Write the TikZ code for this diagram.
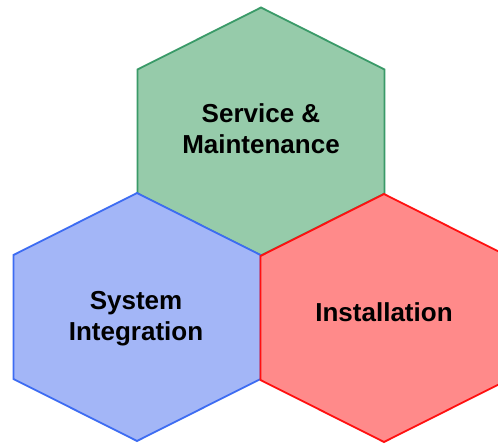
\documentclass[tikz,border=0pt]{standalone}
\usepackage{fontspec}
\setmainfont{Liberation Sans}
\definecolor{gfill}{HTML}{96CBAA}
\definecolor{gline}{HTML}{3A9A68}
\definecolor{bfill}{HTML}{A3B6F7}
\definecolor{bline}{HTML}{3D6CF2}
\definecolor{rfill}{HTML}{FF8A8A}
\definecolor{rline}{HTML}{FF1010}
\tikzset{
  hexa/.style={line width=1.8pt, line join=miter},
  label text/.style={font=\fontsize{26}{31}\selectfont\bfseries, align=center, text=black, inner sep=0pt}
}
\newcommand{\hexpath}[2]{(#1,#2-124) -- (#1+123.5,#2-62) -- (#1+123.5,#2+62) -- (#1,#2+124) -- (#1-123.5,#2+62) -- (#1-123.5,#2-62) -- cycle}
\begin{document}
\begin{tikzpicture}[x=1pt,y=-1pt]
\useasboundingbox (0,0) rectangle (498,444);
\clip (0,0) rectangle (498,444);
% green
\filldraw[hexa, fill=gfill, draw=gline] \hexpath{261}{131.5};
% blue
\filldraw[hexa, fill=bfill, draw=bline] \hexpath{137}{317};
% red
\filldraw[hexa, fill=rfill, draw=rline] \hexpath{384}{318};
% texts
\node[label text] (sm) at (261,129) {Service \&\\Maintenance};
\node[label text] (si) at (136,319) {System\\Integration};
\node[label text] (in) at (384,312) {Installation};
\end{tikzpicture}
\end{document}
